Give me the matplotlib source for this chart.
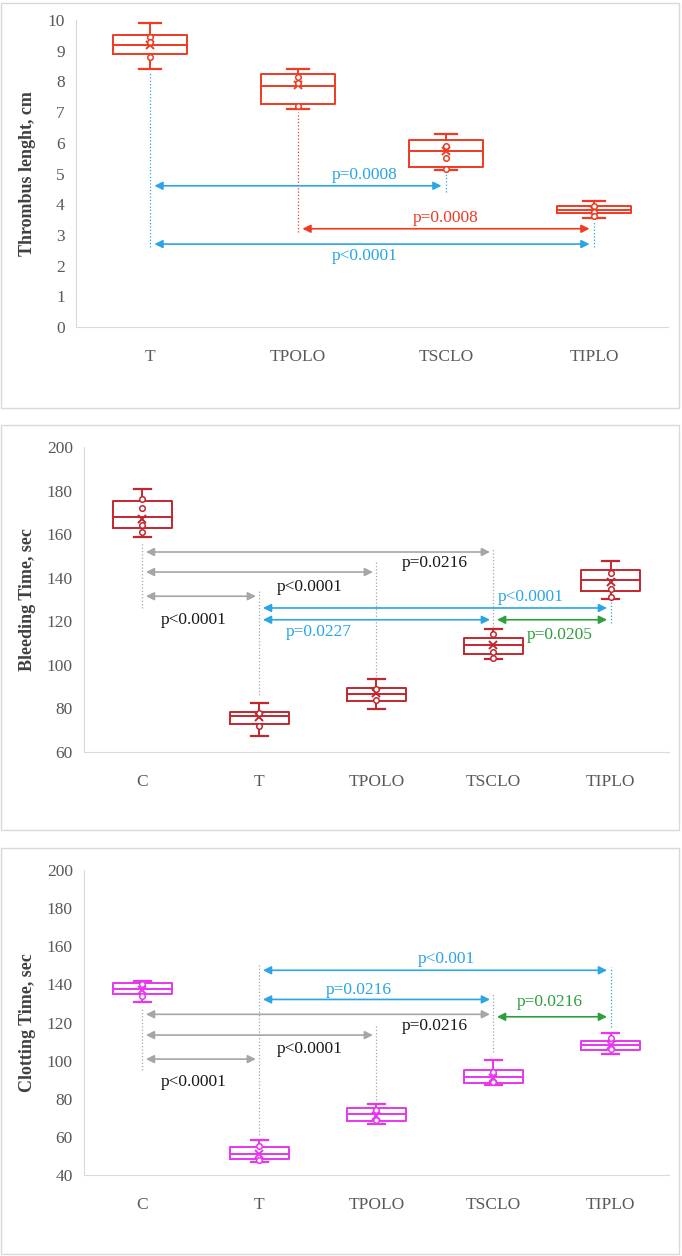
import matplotlib.pyplot as plt
from matplotlib.patches import Rectangle

# ---- data ----
thr_groups = ["T", "TPOLO", "TSCLO", "TIPLO"]
thr_whislo = [8.4, 7.1, 5.1, 3.55]
thr_q1 = [8.9, 7.25, 5.2, 3.7]
thr_med = [9.2, 7.85, 5.75, 3.8]
thr_q3 = [9.5, 8.25, 6.1, 3.95]
thr_whishi = [9.9, 8.4, 6.3, 4.1]
thr_mean = [9.2, 7.9, 5.75, 3.8]
thr_points = [[9.45, 9.3, 8.8], [8.15, 7.95, 7.2], [5.9, 5.5, 5.15], [3.95, 3.75, 3.6]]

bt_groups = ["C", "T", "TPOLO", "TSCLO", "TIPLO"]
bt_whislo = [158.5, 67.5, 79.5, 102.5, 130]
bt_q1 = [163, 73, 83.5, 105, 134]
bt_med = [168, 76.5, 86.5, 109, 139]
bt_q3 = [175, 78.5, 89.5, 112.5, 143.5]
bt_whishi = [180.5, 82.5, 93.5, 116.5, 147.5]
bt_mean = [167, 76, 87, 109, 138]
bt_points = [[176, 172, 164, 161], [78, 72], [89, 84], [114, 106, 103], [142, 135, 131]]

ct_groups = ["C", "T", "TPOLO", "TSCLO", "TIPLO"]
ct_whislo = [131, 47, 66.5, 87, 103.5]
ct_q1 = [135, 48.5, 68.5, 88.5, 105.5]
ct_med = [137.5, 51, 72, 91.5, 108]
ct_q3 = [140.5, 54.5, 75, 95, 110.5]
ct_whishi = [142, 58.5, 77.5, 100.5, 114.5]
ct_mean = [137, 51, 71, 91, 108]
ct_points = [[140, 134], [55, 48], [74, 69], [94, 89], [112, 106]]

# comparisons: (from group, to group, arrow y, p label, label x, label y, colour key)
thr_comp = [
    (1, 3, 4.6, "p=0.0008", 2.45, 4.95, "blue"),
    (2, 4, 3.2, "p=0.0008", 3.0, 3.55, "red"),
    (1, 4, 2.7, "p<0.0001", 2.45, 2.3, "blue"),
]
thr_guides = [(1, 2.6, 8.3, "blue"), (3, 4.4, 5.05, "blue"), (2, 3.1, 7.0, "red"), (4, 2.6, 3.45, "blue")]

bt_comp = [
    (1, 4, 151.8, "p=0.0216", 3.5, 146.8, "gray"),
    (1, 3, 142.6, "p<0.0001", 2.43, 135.7, "gray"),
    (1, 2, 131.5, "p<0.0001", 1.44, 120.4, "gray"),
    (2, 5, 126.1, "p<0.0001", 4.32, 131.2, "blue"),
    (2, 4, 120.7, "p=0.0227", 2.51, 115.1, "blue"),
    (4, 5, 120.7, "p=0.0205", 4.57, 113.9, "green"),
]
bt_guides = [(1, 126, 156, "gray"), (4, 117.5, 153.5, "gray"), (3, 95, 147, "gray"),
             (2, 86, 134.5, "gray"), (5, 119, 129.5, "blue")]

ct_comp = [
    (2, 5, 147.4, "p<0.001", 3.6, 153.3, "blue"),
    (2, 4, 132.1, "p=0.0216", 2.85, 137.0, "blue"),
    (4, 5, 123.0, "p=0.0216", 4.48, 130.9, "green"),
    (1, 4, 124.3, "p=0.0216", 3.5, 118.1, "gray"),
    (1, 3, 113.4, "p<0.0001", 2.43, 106.0, "gray"),
    (1, 2, 100.8, "p<0.0001", 1.44, 88.6, "gray"),
]
ct_guides = [(2, 61, 150.5, "gray"), (5, 117.5, 149.3, "blue"), (4, 104.5, 135.3, "gray"),
             (1, 95, 128.3, "gray"), (3, 79.5, 118.7, "gray")]

colors = {"blue": "#2aa5e6", "gray": "#a6a6a6", "green": "#2e9e3e", "red": "#f03a22"}
text_colors = {"blue": "#2aa5e6", "gray": "#1a1a1a", "green": "#2e9e3e", "red": "#f03a22"}

plt.rcParams["font.family"] = ["Liberation Serif", "DejaVu Serif"]

fig = plt.figure(figsize=(6.82, 12.56), dpi=100)

# light frames around each panel
for y0 in [0.675, 0.339, 0.0016]:
    fig.add_artist(Rectangle((0.002, y0), 0.994, 0.323, transform=fig.transFigure,
                             fill=False, edgecolor="#d9d9d9", lw=1.0))


def draw_panel(ax, groups, whislo, q1, med, q3, whishi, mean, points, color,
               comps, guides, ylim, step, ylabel):
    stats = []
    for i in range(len(groups)):
        stats.append(dict(whislo=whislo[i], q1=q1[i], med=med[i], q3=q3[i],
                          whishi=whishi[i], mean=mean[i], fliers=[]))
    pos = list(range(1, len(groups) + 1))
    ax.bxp(stats, positions=pos, widths=0.5, showmeans=True, capwidths=0.15,
           boxprops=dict(color=color, lw=1.4),
           medianprops=dict(color=color, lw=1.4),
           whiskerprops=dict(color=color, lw=1.4),
           capprops=dict(color=color, lw=1.6),
           meanprops=dict(marker="x", markeredgecolor=color, markersize=6, mew=1.4))
    for i, pts in enumerate(points):
        ax.scatter([pos[i]] * len(pts), pts, s=16, facecolors="white",
                   edgecolors=color, linewidths=1.1, zorder=3)

    for g, y0, y1, c in guides:
        ax.vlines(g, y0, y1, colors=colors[c], linestyles=":", lw=0.9)
    for a, b, y, lab, lx, ly, c in comps:
        ax.annotate("", xy=(b - 0.03, y), xytext=(a + 0.03, y),
                    arrowprops=dict(arrowstyle="<|-|>", color=colors[c], lw=1.2,
                                    mutation_scale=12, shrinkA=0, shrinkB=0))
        ax.text(lx, ly, lab, color=text_colors[c], fontsize=12.5,
                ha="center", va="center")

    ax.set_xlim(0.5, len(groups) + 0.5)
    ax.set_ylim(*ylim)
    ax.set_yticks(range(ylim[0], ylim[1] + 1, step))
    ax.set_xticks(pos)
    ax.set_xticklabels(groups)
    ax.tick_params(length=0, labelsize=12.5, labelcolor="#595959", pad=8)
    ax.tick_params(axis="x", pad=16)
    for s in ["top", "right"]:
        ax.spines[s].set_visible(False)
    for s in ["left", "bottom"]:
        ax.spines[s].set_color("#d9d9d9")
    ax.set_ylabel(ylabel, fontsize=13, fontweight="bold", color="#404040", labelpad=8)


ax1 = fig.add_axes([0.1114, 0.7397, 0.868, 0.2443])
draw_panel(ax1, thr_groups, thr_whislo, thr_q1, thr_med, thr_q3, thr_whishi, thr_mean,
           thr_points, "#f03a22", thr_comp, thr_guides, (0, 10), 1, "Thrombus lenght, cm")

ax2 = fig.add_axes([0.123, 0.4013, 0.858, 0.2428])
draw_panel(ax2, bt_groups, bt_whislo, bt_q1, bt_med, bt_q3, bt_whishi, bt_mean,
           bt_points, "#c1272d", bt_comp, bt_guides, (60, 200), 20, "Bleeding Time, sec")

ax3 = fig.add_axes([0.123, 0.0645, 0.858, 0.2428])
draw_panel(ax3, ct_groups, ct_whislo, ct_q1, ct_med, ct_q3, ct_whishi, ct_mean,
           ct_points, "#e835ee", ct_comp, ct_guides, (40, 200), 20, "Clotting Time, sec")

fig.savefig("out.png", dpi=100)
